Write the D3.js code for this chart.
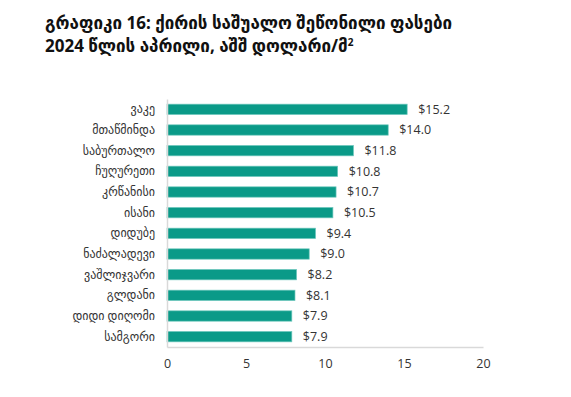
<!DOCTYPE html>
<html>
<head>
<meta charset="utf-8">
<script src="https://cdn.jsdelivr.net/npm/d3@7"></script>
<style>
  body { margin: 0; background: #fff; }
  svg text { fill: #333; }
</style>
</head>
<body>
<figure id="chart" style="margin:0"></figure>
<script>
const districts = ['ვაკე', 'მთაწმინდა', 'საბურთალო', 'ჩუღურეთი', 'კრწანისი', 'ისანი',
  'დიდუბე', 'ნაძალადევი', 'ვაშლიჯვარი', 'გლდანი', 'დიდი დიღომი', 'სამგორი']
const prices = [15.2, 14.0, 11.8, 10.8, 10.7, 10.5, 9.4, 9.0, 8.2, 8.1, 7.9, 7.9]
const xTicks = [0, 5, 10, 15, 20]
const titleLines = ['გრაფიკი 16: ქირის საშუალო შეწონილი ფასები', '2024 წლის აპრილი, აშშ დოლარი/მ']

const W = 571, H = 397
const margin = { top: 99, right: 88, bottom: 50, left: 167 }
const width = W - margin.left - margin.right
const height = H - margin.top - margin.bottom

const svg = d3.select('figure#chart')
  .append('svg')
  .attr('width', W)
  .attr('height', H)

// Title
const title = svg.append('text')
  .attr('x', 45)
  .attr('font-family', '"Noto Sans", "DejaVu Sans", sans-serif')
  .attr('font-weight', 'bold')
  .attr('font-size', '17px')
  .style('fill', '#111')
title.append('tspan').attr('x', 45).attr('y', 29).text(titleLines[0])
title.append('tspan').attr('x', 45).attr('y', 52).text(titleLines[1])
title.append('tspan').attr('dy', -6).attr('font-size', '10px').text('2')

const g = svg.append('g')
  .attr('transform', `translate(${margin.left}, ${margin.top})`)

// Scales
const xScale = d3.scaleLinear().domain([0, 20]).range([0, width])
const yScale = d3.scaleBand().domain(districts).range([0, height]).paddingInner(0.5).paddingOuter(0.25)

// Bars
g.selectAll('.bar')
  .data(districts)
  .enter()
  .append('rect')
  .attr('class', 'bar')
  .attr('x', 0)
  .attr('y', d => yScale(d))
  .attr('width', (d, i) => xScale(prices[i]))
  .attr('height', yScale.bandwidth())
  .attr('fill', '#0a9a88')
  .attr('stroke', '#6cc7bc')
  .attr('stroke-width', 0.7)

// Value labels
g.selectAll('.val')
  .data(districts)
  .enter()
  .append('text')
  .attr('class', 'val')
  .attr('x', (d, i) => xScale(prices[i]) + 11)
  .attr('y', d => yScale(d) + yScale.bandwidth() / 2)
  .attr('dy', '0.35em')
  .attr('font-family', '"Open Sans", sans-serif')
  .attr('font-size', '12.5px')
  .text((d, i) => '$' + prices[i].toFixed(1))

// Axes
const xAxis = d3.axisBottom(xScale)
  .tickValues(xTicks)
  .tickSize(0)
  .tickPadding(12)
const yAxis = d3.axisLeft(yScale)
  .tickSize(0)
  .tickPadding(12)

const ax = g.append('g')
  .attr('transform', `translate(0, ${height})`)
  .call(xAxis)
ax.select('.domain').attr('stroke', '#d9d9d9').attr('stroke-width', 1.5)
ax.selectAll('text')
  .attr('font-family', '"Open Sans", sans-serif')
  .attr('font-size', '12.5px')
  .style('fill', '#333')

const ay = g.append('g').call(yAxis)
ay.select('.domain').attr('stroke', '#d9d9d9').attr('stroke-width', 1.5)
ay.selectAll('text')
  .attr('font-family', '"Noto Sans", "DejaVu Sans", sans-serif')
  .attr('font-size', '12px')
  .style('fill', '#333')
</script>
</body>
</html>
